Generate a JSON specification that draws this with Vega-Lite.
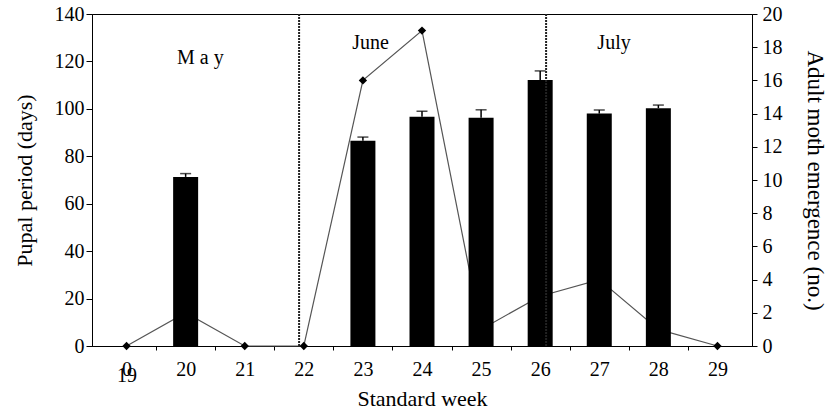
{
  "$schema": "https://vega.github.io/schema/vega-lite/v6.json",
  "width": 660,
  "height": 332,
  "autosize": {"type": "none"},
  "padding": {"left": 92, "top": 14, "right": 79, "bottom": 71},
  "background": "white",
  "config": {
    "view": {"stroke": "black", "strokeWidth": 1},
    "font": "Liberation Serif",
    "text": {"font": "Liberation Serif"},
    "axis": {
      "labelFont": "Liberation Serif",
      "titleFont": "Liberation Serif",
      "labelColor": "black",
      "titleColor": "black",
      "domainColor": "black",
      "tickColor": "black",
      "labelFontSize": 20,
      "titleFontSize": 22,
      "titleFontWeight": "normal",
      "labelOverlap": false,
      "grid": false
    }
  },
  "datasets": {
    "pupal": [
      {"week": 20, "days": 71.3, "upper": 72.7},
      {"week": 23, "days": 86.6, "upper": 88.1},
      {"week": 24, "days": 96.7, "upper": 99.0},
      {"week": 25, "days": 96.3, "upper": 99.6},
      {"week": 26, "days": 112.2, "upper": 116.0},
      {"week": 27, "days": 98.0, "upper": 99.5},
      {"week": 28, "days": 100.3, "upper": 101.6}
    ],
    "moth": [
      {"week": 19, "moths": 0},
      {"week": 20, "moths": 2},
      {"week": 21, "moths": 0},
      {"week": 22, "moths": 0},
      {"week": 23, "moths": 16},
      {"week": 24, "moths": 19},
      {"week": 25, "moths": 1},
      {"week": 26, "moths": 3},
      {"week": 27, "moths": 4},
      {"week": 28, "moths": 1},
      {"week": 29, "moths": 0}
    ],
    "months": [
      {"week": 20.25, "days": 121.5, "label": "M a y"},
      {"week": 23.13, "days": 127.8, "label": "June"},
      {"week": 27.25, "days": 127.8, "label": "July"}
    ],
    "dividers": [
      {"pos": 21.92},
      {"pos": 26.1}
    ]
  },
  "layer": [
    {
      "data": {"name": "moth"},
      "mark": {"type": "line", "color": "#555555", "strokeWidth": 1.2},
      "encoding": {
        "x": {
          "field": "week", "type": "quantitative",
          "scale": {"domain": [18.5, 29.5], "nice": false, "zero": false},
          "axis": {
            "orient": "bottom",
            "values": [19.5, 20.5, 21.5, 22.5, 23.5, 24.5, 25.5, 26.5, 27.5, 28.5],
            "labels": false,
            "domain": false,
            "tickSize": 4,
            "title": null
          }
        },
        "y": {
          "field": "moths", "type": "quantitative",
          "scale": {"domain": [0, 20], "nice": false, "zero": true},
          "axis": {
            "orient": "right",
            "values": [0, 2, 4, 6, 8, 10, 12, 14, 16, 18, 20],
            "labelOverlap": false,
            "tickSize": 5,
            "labelPadding": 5,
            "title": "Adult moth emergence (no.)",
            "titleFontSize": 23,
            "titlePadding": 20
          }
        }
      }
    },
    {
      "data": {"name": "moth"},
      "mark": {"type": "point", "shape": "diamond", "filled": true, "color": "black", "size": 70, "opacity": 1},
      "encoding": {
        "x": {"field": "week", "type": "quantitative", "scale": {"domain": [18.5, 29.5], "nice": false, "zero": false}, "axis": null},
        "y": {"field": "moths", "type": "quantitative", "scale": {"domain": [0, 20], "nice": false}, "axis": null}
      }
    },
    {
      "data": {"name": "pupal"},
      "mark": {"type": "bar", "color": "black", "size": 25},
      "encoding": {
        "x": {
          "field": "week", "type": "quantitative",
          "scale": {"domain": [18.5, 29.5], "nice": false, "zero": false},
          "axis": {
            "orient": "bottom",
            "values": [19, 20, 21, 22, 23, 24, 25, 26, 27, 28, 29],
            "ticks": false,
            "tickSize": 0,
            "labelPadding": 13,
            "labelExpr": "datum.value == 19 ? '0' : format(datum.value, 'd')",
            "labelFlush": false,
            "title": "Standard week",
            "titlePadding": 9
          }
        },
        "y": {
          "field": "days", "type": "quantitative",
          "scale": {"domain": [0, 140], "nice": false},
          "axis": {
            "orient": "left",
            "values": [0, 20, 40, 60, 80, 100, 120, 140],
            "tickSize": 6,
            "labelPadding": 2,
            "title": "Pupal period (days)",
            "titlePadding": 18
          }
        }
      }
    },
    {
      "data": {"name": "pupal"},
      "mark": {"type": "rule", "color": "black", "strokeWidth": 1.5},
      "encoding": {
        "x": {"field": "week", "type": "quantitative", "scale": {"domain": [18.5, 29.5], "nice": false, "zero": false}, "axis": null},
        "y": {"field": "days", "type": "quantitative", "scale": {"domain": [0, 140], "nice": false}, "axis": null},
        "y2": {"field": "upper"}
      }
    },
    {
      "data": {"name": "pupal"},
      "mark": {"type": "tick", "orient": "horizontal", "color": "black", "size": 11, "thickness": 1.5},
      "encoding": {
        "x": {"field": "week", "type": "quantitative", "scale": {"domain": [18.5, 29.5], "nice": false, "zero": false}, "axis": null},
        "y": {"field": "upper", "type": "quantitative", "scale": {"domain": [0, 140], "nice": false}, "axis": null}
      }
    },
    {
      "data": {"name": "months"},
      "mark": {"type": "text", "font": "Liberation Serif", "fontSize": 20, "color": "black", "baseline": "middle", "align": "center"},
      "encoding": {
        "x": {"field": "week", "type": "quantitative", "scale": {"domain": [18.5, 29.5], "nice": false, "zero": false}, "axis": null},
        "y": {"field": "days", "type": "quantitative", "scale": {"domain": [0, 140], "nice": false}, "axis": null},
        "text": {"field": "label"}
      }
    },
    {
      "data": {"name": "dividers"},
      "mark": {"type": "rule", "color": "#222222", "strokeWidth": 2, "strokeDash": [2, 1]},
      "encoding": {
        "x": {
          "field": "pos", "type": "quantitative",
          "scale": {"domain": [18.5, 29.5], "nice": false, "zero": false},
          "axis": {
            "orient": "bottom",
            "values": [19],
            "labelExpr": "'19'",
            "ticks": false,
            "tickSize": 0,
            "domain": false,
            "labelPadding": 19,
            "labelDx": -5,
            "labelFlush": false,
            "title": null
          }
        }
      }
    }
  ],
  "resolve": {"scale": {"y": "independent"}, "axis": {"x": "independent", "y": "independent"}}
}
